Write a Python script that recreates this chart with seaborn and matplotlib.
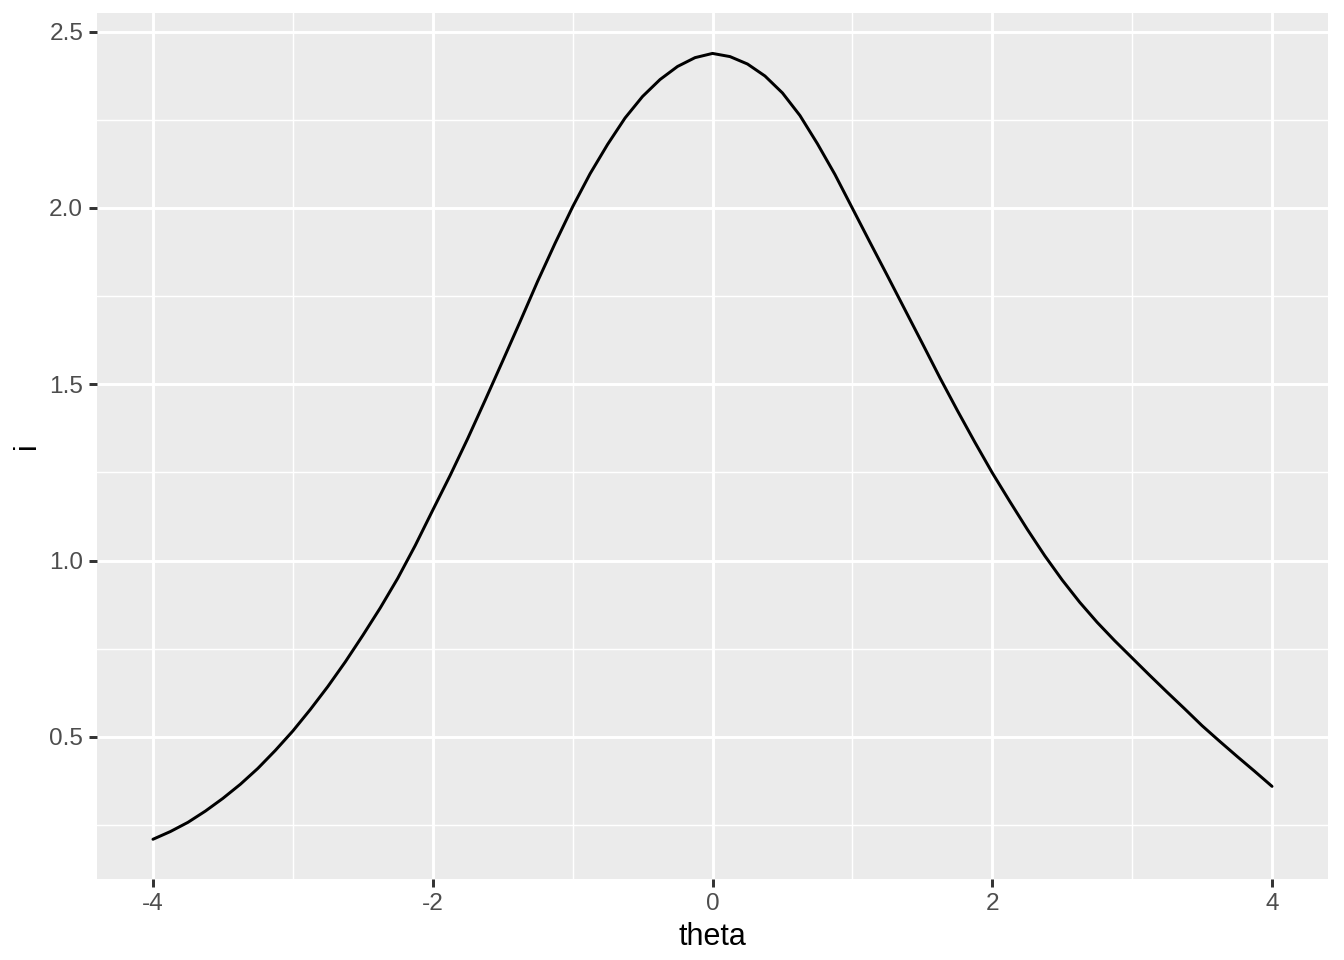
import numpy as np
import pandas as pd
import matplotlib
matplotlib.use("Agg")
import matplotlib.pyplot as plt
from matplotlib.ticker import FixedLocator
import seaborn as sns

# ==========================================
# DATA (step 0.125)
# ==========================================

theta = [-4.0, -3.875, -3.75, -3.625, -3.5, -3.375, -3.25, -3.125,
         -3.0, -2.875, -2.75, -2.625, -2.5, -2.375, -2.25, -2.125,
         -2.0, -1.875, -1.75, -1.625, -1.5, -1.375, -1.25, -1.125,
         -1.0, -0.875, -0.75, -0.625, -0.5, -0.375, -0.25, -0.125,
         0.0, 0.125, 0.25, 0.375, 0.5, 0.625, 0.75, 0.875,
         1.0, 1.125, 1.25, 1.375, 1.5, 1.625, 1.75, 1.875,
         2.0, 2.125, 2.25, 2.375, 2.5, 2.625, 2.75, 2.875,
         3.0, 3.125, 3.25, 3.375, 3.5, 3.625, 3.75, 3.875, 4.0]

info = [0.210, 0.232, 0.258, 0.290, 0.326, 0.366, 0.411, 0.462,
        0.517, 0.578, 0.643, 0.713, 0.788, 0.866, 0.950, 1.043,
        1.143, 1.242, 1.346, 1.455, 1.566, 1.678, 1.792, 1.900,
        2.003, 2.097, 2.180, 2.255, 2.316, 2.364, 2.401, 2.426,
        2.438, 2.429, 2.408, 2.374, 2.326, 2.262, 2.182, 2.095,
        1.999, 1.903, 1.808, 1.712, 1.616, 1.519, 1.426, 1.336,
        1.249, 1.168, 1.089, 1.014, 0.945, 0.882, 0.825, 0.773,
        0.724, 0.675, 0.627, 0.580, 0.532, 0.488, 0.445, 0.403, 0.360]

x_ticks = [-4, -2, 0, 2, 4]
y_ticks = [0.5, 1.0, 1.5, 2.0, 2.5]
x_minor = [-3, -1, 1, 3]
y_minor = [0.25, 0.75, 1.25, 1.75, 2.25]

df = pd.DataFrame({"theta": theta, "i": info})

# ==========================================
# STYLE (ggplot grey look)
# ==========================================

sns.set_style("white")
plt.rcParams["font.family"] = ["Liberation Sans", "DejaVu Sans"]

fig = plt.figure(figsize=(6.72, 4.8), dpi=200)
ax = fig.add_axes([97 / 1344, 81 / 960, 1231 / 1344, 866 / 960])
ax.set_facecolor("#EBEBEB")
for spine in ax.spines.values():
    spine.set_visible(False)

ax.set_axisbelow(True)
ax.xaxis.set_major_locator(FixedLocator(x_ticks))
ax.yaxis.set_major_locator(FixedLocator(y_ticks))
ax.xaxis.set_minor_locator(FixedLocator(x_minor))
ax.yaxis.set_minor_locator(FixedLocator(y_minor))
ax.grid(which="major", color="white", linewidth=1.07)
ax.grid(which="minor", color="white", linewidth=0.53)

# ==========================================
# CURVE
# ==========================================

sns.lineplot(data=df, x="theta", y="i", color="black", linewidth=1.07, ax=ax)

ax.set_xlim(-4.4, 4.4)
ax.set_ylim(0.0974, 2.5526)

ax.set_xticklabels([str(t) for t in x_ticks])
ax.set_yticklabels([f"{t:.1f}" for t in y_ticks])
ax.tick_params(which="major", length=2.75, width=1.07, color="#333333",
               labelcolor="#4D4D4D", labelsize=8.8, pad=2.2,
               bottom=True, left=True)
ax.tick_params(which="minor", length=0)

ax.set_xlabel("theta", fontsize=11, color="black", labelpad=2.75)
ax.set_ylabel("i", fontsize=11, color="black", labelpad=2.75)

plt.savefig("out.png", dpi=200, facecolor="white")
